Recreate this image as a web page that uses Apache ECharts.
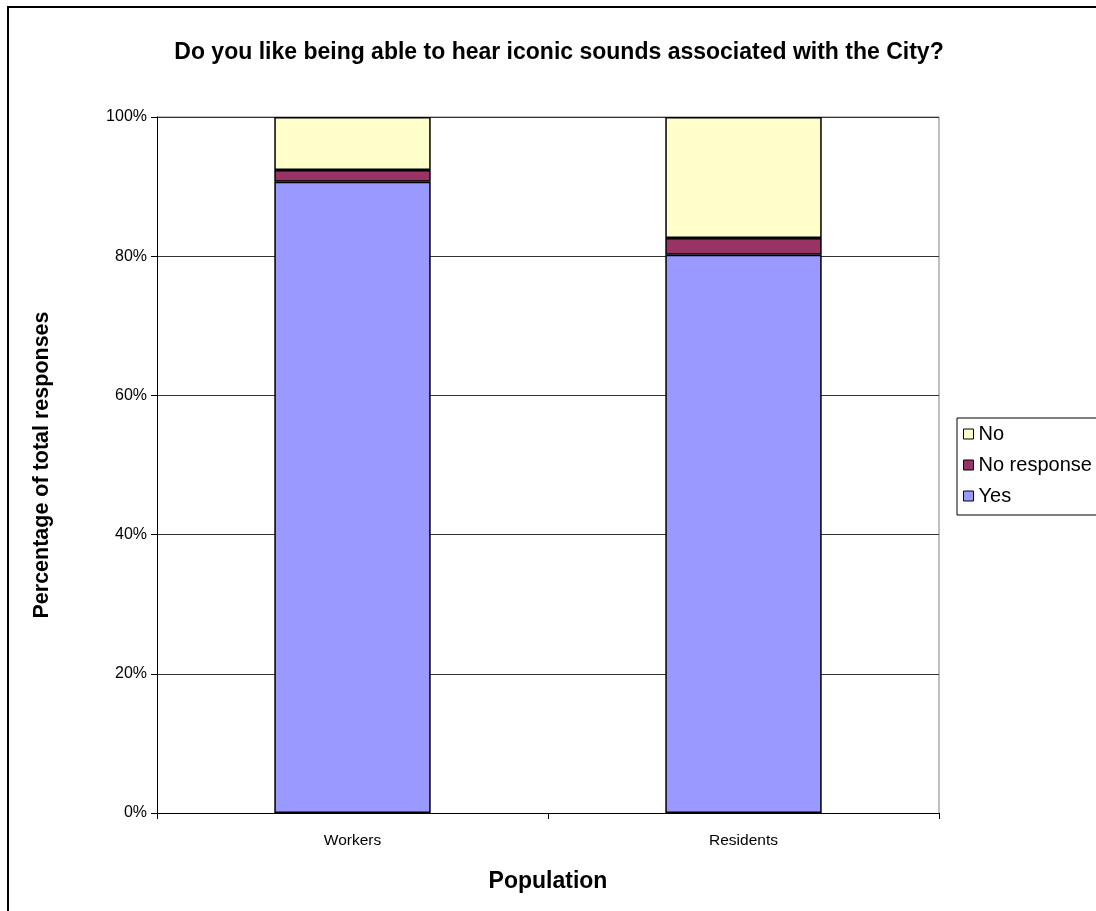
<!DOCTYPE html>
<html><head><meta charset="utf-8">
<script src="https://cdn.jsdelivr.net/npm/echarts@6/dist/echarts.min.js"></script>
<style>html,body{margin:0;padding:0;background:#fff}#c{width:1096px;height:911px}</style>
</head><body><div id="c"></div>
<script>
var categories = ['Workers', 'Residents'];
var yesValues = [90.7, 80.2];
var noResponseValues = [1.7, 2.4];
var noValues = [7.6, 17.4];
var yTicks = [0, 20, 40, 60, 80, 100];

var chart = echarts.init(document.getElementById('c'));
var font = 'Liberation Sans, Arial, sans-serif';
function barSeries(name, data, color) {
  return {
    name: name, type: 'bar', stack: 'total', data: data, barWidth: '40%',
    itemStyle: { color: color, borderColor: '#000', borderWidth: 1.5 }
  };
}
chart.setOption({
  animation: false,
  textStyle: { fontFamily: font },
  title: {
    text: 'Do you like being able to hear iconic sounds associated with the City?',
    left: 554, top: 36, textAlign: 'center',
    textStyle: { fontSize: 23, fontWeight: 'bold', color: '#000', fontFamily: font }
  },
  graphic: [
    { type: 'rect', shape: { x: 8, y: 7, width: 1200, height: 1000 }, style: { fill: 'none', stroke: '#000', lineWidth: 2 }, silent: true },
    { type: 'polyline', shape: { points: [[157, 117], [939, 117], [939, 813]] }, style: { fill: 'none', stroke: '#808080', lineWidth: 1 }, silent: true }
  ],
  grid: { left: 157, top: 117, width: 782, height: 696 },
  legend: {
    orient: 'vertical', left: 957, top: 418,
    data: ['No', 'No response', 'Yes'],
    icon: 'rect', itemWidth: 10, itemHeight: 10, itemGap: 11, itemTextGap: 6,
    padding: [6, 40, 9, 6],
    borderColor: '#000', borderWidth: 1,
    itemStyle: { borderColor: '#000', borderWidth: 1 },
    textStyle: { fontSize: 20, lineHeight: 20, color: '#000', fontFamily: font }
  },
  xAxis: {
    type: 'category', data: categories,
    name: 'Population', nameLocation: 'middle', nameGap: 57,
    nameTextStyle: { fontSize: 23, fontWeight: 'bold', color: '#000', fontFamily: font },
    axisLine: { lineStyle: { color: '#000', width: 1 } },
    axisTick: { show: true, length: 6, lineStyle: { color: '#000' } },
    axisLabel: { fontSize: 15.5, color: '#000', margin: 20, fontFamily: font }
  },
  yAxis: {
    type: 'value', min: 0, max: 100, interval: 20,
    name: 'Percentage of total responses', nameLocation: 'middle', nameGap: 104,
    nameTextStyle: { fontSize: 21.5, fontWeight: 'bold', color: '#000', fontFamily: font },
    axisLine: { show: true, lineStyle: { color: '#000', width: 1 } },
    axisTick: { show: true, length: 6, lineStyle: { color: '#000' } },
    axisLabel: { fontSize: 16, color: '#000', margin: 10, fontFamily: font,
      formatter: function (v) { return yTicks.indexOf(v) >= 0 ? v + '%' : ''; } },
    splitLine: { show: true, lineStyle: { color: '#333', width: 1 } }
  },
  series: [
    barSeries('Yes', yesValues, '#9999FF'),
    barSeries('No response', noResponseValues, '#993366'),
    barSeries('No', noValues, '#FFFFCC')
  ]
});
</script></body></html>
